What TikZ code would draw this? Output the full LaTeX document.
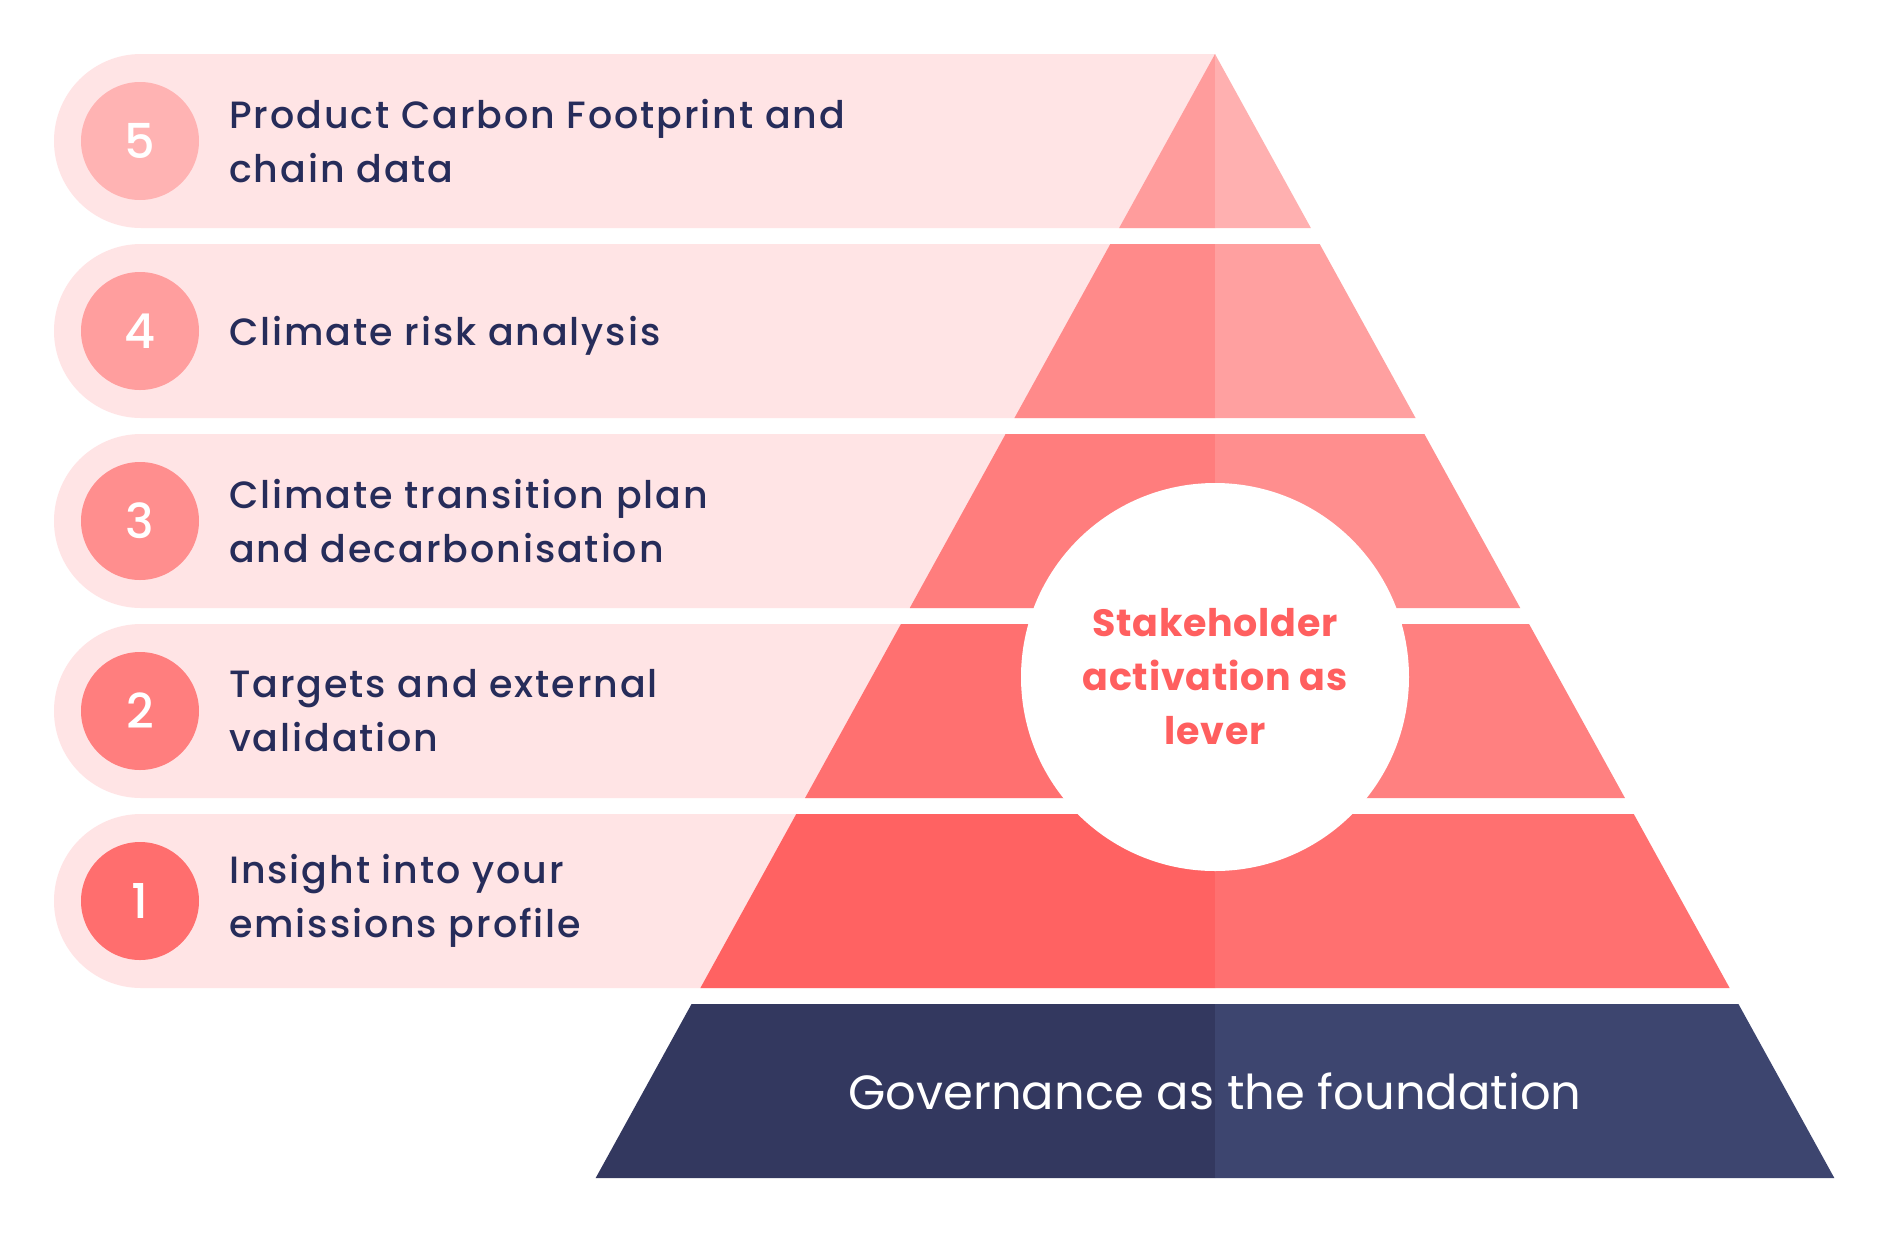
\documentclass[tikz,border=0pt]{standalone}
\usepackage{fontspec}
\setmainfont{Poppins}
\newfontfamily\medfont{Poppins Medium}
\usetikzlibrary{positioning,calc}

\definecolor{pillbg}{HTML}{FFE4E5}
\definecolor{navytext}{HTML}{262C5A}
\definecolor{levertext}{HTML}{FF5F5F}
\definecolor{p5l}{HTML}{FF9C9C}
\definecolor{p5r}{HTML}{FFB0B0}
\definecolor{p4l}{HTML}{FF8A8A}
\definecolor{p4r}{HTML}{FFA0A0}
\definecolor{p3l}{HTML}{FF7D7D}
\definecolor{p3r}{HTML}{FF8E8E}
\definecolor{p2l}{HTML}{FF7070}
\definecolor{p2r}{HTML}{FF8080}
\definecolor{p1l}{HTML}{FF6262}
\definecolor{p1r}{HTML}{FF7070}
\definecolor{govl}{HTML}{33385F}
\definecolor{govr}{HTML}{3D456F}
\definecolor{n5}{HTML}{FFB3B3}
\definecolor{n4}{HTML}{FF9E9E}
\definecolor{n3}{HTML}{FF8E8E}
\definecolor{n2}{HTML}{FF7E7E}
\definecolor{n1}{HTML}{FF6E6E}

\tikzset{
  numcirc/.style={circle,minimum size=118pt,inner sep=0pt,text=white,
    font=\medfont\fontsize{48}{48}\selectfont},
  itemtext/.style={anchor=west,align=left,inner sep=0pt,text=navytext,
    font=\medfont\fontsize{38}{54}\selectfont\addfontfeature{LetterSpace=5}},
  lever/.style={circle,fill=white,minimum size=388pt,inner sep=0pt,align=center,
    text=levertext,font=\bfseries\fontsize{38}{54}\selectfont\addfontfeature{LetterSpace=2}},
  govtext/.style={text=white,font=\fontsize{48}{48}\selectfont}
}

\begin{document}
\begin{tikzpicture}[x=1pt,y=-1pt]
  \useasboundingbox (0,0) rectangle (1880,1240);
  \fill[white] (0,0) rectangle (1880,1240);
  \foreach \i in {0,...,4} {
    \pgfmathsetmacro\yt{54+190*\i}
    \fill[pillbg] (1215,\yt) -- (141,\yt) arc[start angle=-90,end angle=-270,radius=87]
      -- (1215,\yt+174) -- cycle;
  }
  \foreach \i/\lc/\rc in {0/p5l/p5r,1/p4l/p4r,2/p3l/p3r,3/p2l/p2r,4/p1l/p1r,5/govl/govr} {
    \pgfmathsetmacro\yt{54+190*\i}
    \pgfmathsetmacro\yb{\yt+174}
    \pgfmathsetmacro\wt{0.551*(\yt-54)}
    \pgfmathsetmacro\wb{0.551*(\yb-54)}
    \fill[\lc] (1215-\wt,\yt) -- (1215,\yt) -- (1215,\yb) -- (1215-\wb,\yb) -- cycle;
    \fill[\rc] (1215,\yt) -- (1215+\wt,\yt) -- (1215+\wb,\yb) -- (1215,\yb) -- cycle;
  }
  \foreach \n/\i/\dy/\txt in {5/0/0/{Product Carbon Footprint and\\chain data},
                              4/1/5/{Climate risk analysis},
                              3/2/0/{Climate transition plan\\and decarbonisation},
                              2/3/0/{Targets and external\\validation},
                              1/4/0/{Insight into your\\emissions profile}} {
    \node[numcirc,fill=n\n] (num\n) at (140,141+190*\i) {\n};
    \node[itemtext] (item\n) at (229,141+190*\i+\dy) {\txt};
  }
  \node[lever] (lever) at (1215,677) {Stakeholder\\activation as\\lever};
  \node[govtext] (gov) at (1215,1091) {Governance as the foundation};
\end{tikzpicture}
\end{document}
